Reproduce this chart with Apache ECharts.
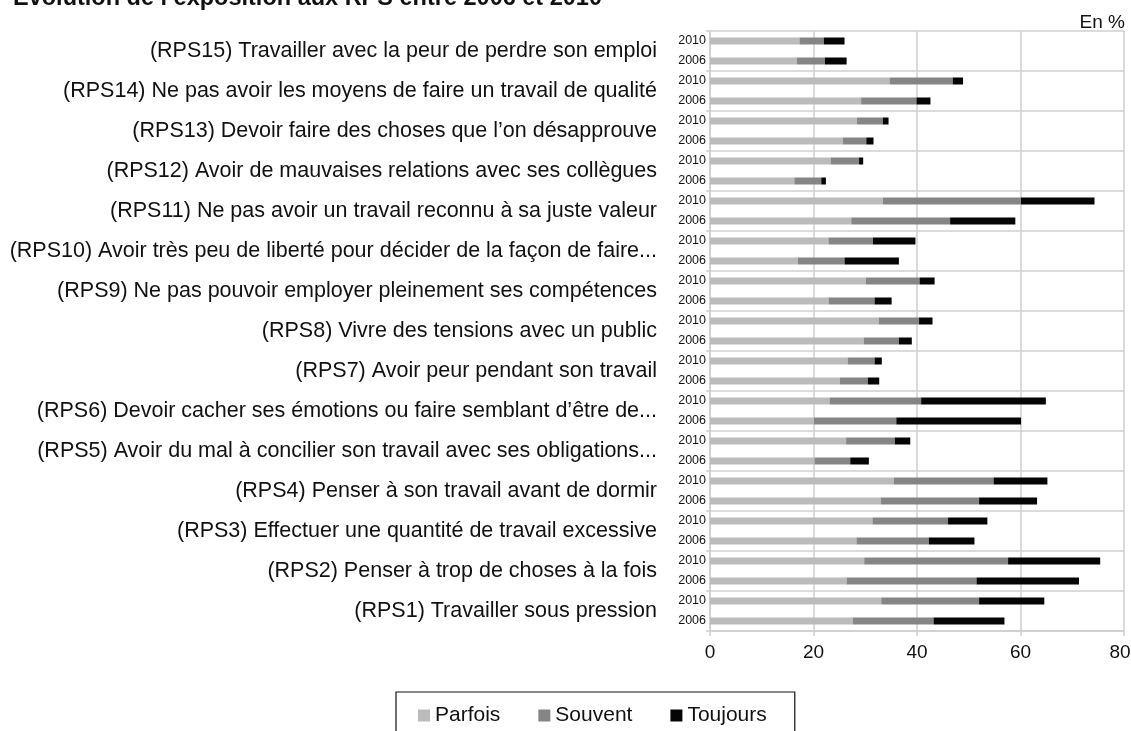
<!DOCTYPE html>
<html>
<head>
<meta charset="utf-8">
<script src="https://cdn.jsdelivr.net/npm/echarts@6/dist/echarts.min.js"></script>
<style>
html,body{margin:0;padding:0;background:#fff;}
#chart{width:1131px;height:731px;}
</style>
</head>
<body>
<div id="chart"></div>
<script>
// Groups, bottom to top (RPS1 .. RPS15)
const categories = [
  "(RPS1) Travailler sous pression",
  "(RPS2) Penser à trop de choses à la fois",
  "(RPS3) Effectuer une quantité de travail excessive",
  "(RPS4) Penser à son travail avant de dormir",
  "(RPS5) Avoir du mal à concilier son travail avec ses obligations...",
  "(RPS6) Devoir cacher ses émotions ou faire semblant d’être de...",
  "(RPS7) Avoir peur pendant son travail",
  "(RPS8) Vivre des tensions avec un public",
  "(RPS9) Ne pas pouvoir employer pleinement ses compétences",
  "(RPS10) Avoir très peu de liberté pour décider de la façon de faire...",
  "(RPS11) Ne pas avoir un travail reconnu à sa juste valeur",
  "(RPS12) Avoir de mauvaises relations avec ses collègues",
  "(RPS13) Devoir faire des choses que l’on désapprouve",
  "(RPS14) Ne pas avoir les moyens de faire un travail de qualité",
  "(RPS15) Travailler avec la peur de perdre son emploi"
];
const years = ["2006", "2010"];
const seriesNames = ["Parfois", "Souvent", "Toujours"];
const xTicks = [0, 20, 40, 60, 80];

const parfois2010  = [33.1, 29.8, 31.4, 35.5, 26.3, 23.1, 26.6, 32.6, 30.1, 22.9, 33.4, 23.3, 28.4, 34.7, 17.3];
const souvent2010  = [18.9, 27.8, 14.6, 19.3,  9.4, 17.7,  5.2,  7.8, 10.4,  8.6, 26.7,  5.5,  5.0, 12.2,  4.7];
const toujours2010 = [12.6, 17.8,  7.6, 10.4,  3.0, 24.1,  1.4,  2.6,  2.9,  8.2, 14.2,  0.8,  1.1,  2.0,  4.0];
const parfois2006  = [27.6, 26.4, 28.3, 33.0, 20.2, 20.1, 25.1, 29.7, 22.9, 17.0, 27.3, 16.3, 25.7, 29.2, 16.8];
const souvent2006  = [15.6, 25.1, 14.0, 19.0,  6.9, 15.9,  5.4,  6.8,  8.9,  9.0, 19.1,  5.2,  4.5, 10.7,  5.4];
const toujours2006 = [13.7, 19.8,  8.8, 11.2,  3.6, 24.1,  2.2,  2.5,  3.3, 10.5, 12.6,  0.9,  1.4,  2.7,  4.2];

const colors = ["#bbbbbb", "#858585", "#050505"];
const FONT = "'Liberation Sans', Arial, Helvetica, sans-serif";

// interleave: for each group, 2006 (lower) then 2010 (upper)
function interleave(a2006, a2010) {
  const out = [];
  for (let i = 0; i < categories.length; i++) { out.push(a2006[i]); out.push(a2010[i]); }
  return out;
}
const yearRows = [];
categories.forEach(() => years.forEach(y => yearRows.push(y)));

const seriesData = [
  interleave(parfois2006, parfois2010),
  interleave(souvent2006, souvent2010),
  interleave(toujours2006, toujours2010)
];
const xMax = xTicks[xTicks.length - 1];

const chart = echarts.init(document.getElementById('chart'), null, {renderer: 'canvas'});
chart.setOption({
  animation: false,
  backgroundColor: '#fff',
  textStyle: {fontFamily: FONT},
  title: [
    {text: "Évolution de l’exposition aux RPS entre 2006 et 2010", left: 8, top: -18,
     textStyle: {fontFamily: FONT, fontSize: 23.5, fontWeight: 'bold', color: '#111'}},
    {text: "En %", right: 1, top: 8,
     textStyle: {fontFamily: FONT, fontSize: 19, fontWeight: 'normal', color: '#111'}}
  ],
  legend: {
    data: seriesNames,
    left: 396, top: 692,
    orient: 'horizontal',
    icon: 'rect', itemWidth: 12, itemHeight: 12, itemGap: 38,
    borderColor: '#111', borderWidth: 1.2,
    padding: [13, 28, 30, 22],
    textStyle: {fontFamily: FONT, fontSize: 21, color: '#111'}
  },
  grid: {left: 710, right: 7, top: 31, bottom: 100, containLabel: false, outerBoundsMode: 'none'},
  xAxis: {
    type: 'value', min: xTicks[0], max: xMax, interval: 20,
    axisLine: {show: true, lineStyle: {color: '#cfcfcf', width: 1.5}},
    axisTick: {show: true, length: 5, lineStyle: {color: '#cfcfcf', width: 1.5}},
    splitLine: {show: true, lineStyle: {color: '#cfcfcf', width: 1.5}},
    axisLabel: {
      fontFamily: FONT, fontSize: 19, color: '#111', margin: 12,
      formatter: v => (v === xMax ? '{m|' + v + '}' : String(v)),
      rich: {m: {fontFamily: FONT, fontSize: 19, color: '#111', padding: [0, 8, 0, 0]}}
    }
  },
  yAxis: [
    {
      type: 'category', data: yearRows, position: 'left',
      axisLine: {show: false}, axisTick: {show: false}, splitLine: {show: false},
      axisLabel: {interval: 0, fontFamily: FONT, fontSize: 12.5, color: '#111', margin: 4}
    },
    {
      type: 'category', data: categories, position: 'left',
      axisLine: {show: true, lineStyle: {color: '#cfcfcf', width: 1.5}},
      axisTick: {show: true, length: 4, lineStyle: {color: '#cfcfcf', width: 1.5}},
      splitLine: {show: true, lineStyle: {color: '#cfcfcf', width: 1.5}},
      axisLabel: {interval: 0, fontFamily: FONT, fontSize: 21.5, color: '#111', margin: 53,
                  padding: [0, 0, 14, 0]}
    }
  ],
  series: seriesNames.map((name, i) => ({
    name: name, type: 'bar', stack: 'total', yAxisIndex: 0,
    barWidth: 7, itemStyle: {color: colors[i]},
    data: seriesData[i]
  }))
});
</script>
</body>
</html>
